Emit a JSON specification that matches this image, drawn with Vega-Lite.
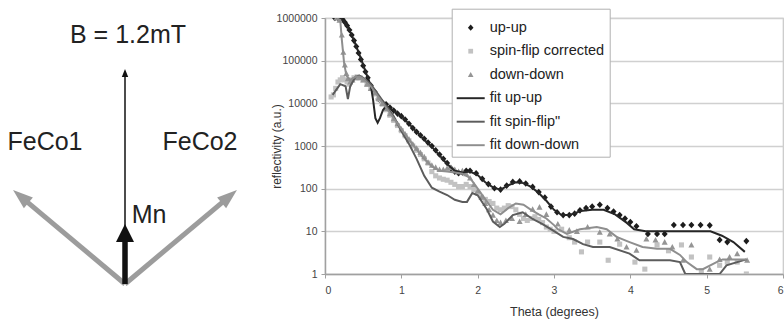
{
  "$schema": "https://vega.github.io/schema/vega-lite/v6.json",
  "background": "white",
  "padding": {"top": 7, "left": 0, "right": 0, "bottom": 0},
  "bounds": "flush",
  "spacing": 75,
  "config": {"font": "Liberation Sans"},
  "resolve": {"scale": {"color": "independent", "shape": "independent"}},
  "datasets": {
    "vec": [
      {"item": "FeCo1", "x0": 0, "y0": 0, "x1": -99.7, "y1": 83.7, "hx": -104.3, "hy": 87.6},
      {"item": "FeCo2", "x0": 0, "y0": 0, "x1": 99.7, "y1": 83.7, "hx": 104.3, "hy": 87.6},
      {"item": "B", "x0": 0, "y0": 0, "x1": 0, "y1": 210, "hx": 0, "hy": 211},
      {"item": "Mn", "x0": 0, "y0": 0, "x1": 0, "y1": 44, "hx": 0, "hy": 51}
    ],
    "lab": [
      {"text": "B = 1.2mT", "x": 3, "y": 249},
      {"text": "FeCo1", "x": -80, "y": 142},
      {"text": "FeCo2", "x": 75, "y": 142},
      {"text": "Mn", "x": 24, "y": 69}
    ],
    "pts": [
      {"s":"up-up","t":0.13,"r":1000000},{"s":"up-up","t":0.17,"r":1000000},{"s":"up-up","t":0.2,"r":1000000},{"s":"up-up","t":0.23,"r":933000},{"s":"up-up","t":0.26,"r":794000},{"s":"up-up","t":0.29,"r":661000},{"s":"up-up","t":0.32,"r":525000},{"s":"up-up","t":0.35,"r":398000},{"s":"up-up","t":0.38,"r":295000},{"s":"up-up","t":0.41,"r":214000},{"s":"up-up","t":0.44,"r":151000},{"s":"up-up","t":0.47,"r":107000},{"s":"up-up","t":0.5,"r":75900},{"s":"up-up","t":0.53,"r":55000},{"s":"up-up","t":0.56,"r":39800},{"s":"up-up","t":0.6,"r":26300},{"s":"up-up","t":0.65,"r":18600},{"s":"up-up","t":0.7,"r":12600},{"s":"up-up","t":0.75,"r":10500},{"s":"up-up","t":0.8,"r":9550},{"s":"up-up","t":0.85,"r":7940},{"s":"up-up","t":0.9,"r":6760},{"s":"up-up","t":0.95,"r":5750},{"s":"up-up","t":1.0,"r":5010},{"s":"up-up","t":1.05,"r":4170},{"s":"up-up","t":1.1,"r":3310},{"s":"up-up","t":1.15,"r":2630},{"s":"up-up","t":1.2,"r":2140},{"s":"up-up","t":1.25,"r":1780},{"s":"up-up","t":1.3,"r":1480},{"s":"up-up","t":1.35,"r":1200},{"s":"up-up","t":1.4,"r":1000},{"s":"up-up","t":1.45,"r":794},{"s":"up-up","t":1.5,"r":631},{"s":"up-up","t":1.55,"r":501},{"s":"up-up","t":1.6,"r":398},{"s":"up-up","t":1.65,"r":302},{"s":"up-up","t":1.7,"r":251},{"s":"up-up","t":1.75,"r":229},{"s":"up-up","t":1.8,"r":240},{"s":"up-up","t":1.85,"r":263},{"s":"up-up","t":1.9,"r":263},{"s":"up-up","t":1.98,"r":229},{"s":"up-up","t":2.06,"r":170},{"s":"up-up","t":2.14,"r":128},{"s":"up-up","t":2.22,"r":102},{"s":"up-up","t":2.3,"r":95},{"s":"up-up","t":2.38,"r":118},{"s":"up-up","t":2.46,"r":144},{"s":"up-up","t":2.55,"r":148},{"s":"up-up","t":2.63,"r":132},{"s":"up-up","t":2.72,"r":110},{"s":"up-up","t":2.8,"r":83},{"s":"up-up","t":2.88,"r":62},{"s":"up-up","t":2.96,"r":38},{"s":"up-up","t":3.04,"r":28},{"s":"up-up","t":3.12,"r":24},{"s":"up-up","t":3.2,"r":24},{"s":"up-up","t":3.27,"r":26},{"s":"up-up","t":3.34,"r":31},{"s":"up-up","t":3.42,"r":35},{"s":"up-up","t":3.5,"r":38},{"s":"up-up","t":3.6,"r":42},{"s":"up-up","t":3.7,"r":35},{"s":"up-up","t":3.78,"r":29},{"s":"up-up","t":3.86,"r":24},{"s":"up-up","t":3.93,"r":20},{"s":"up-up","t":4.0,"r":16.6},{"s":"up-up","t":4.08,"r":13.2},{"s":"up-up","t":4.23,"r":8.7},{"s":"up-up","t":4.35,"r":8.7},{"s":"up-up","t":4.45,"r":8.7},{"s":"up-up","t":4.57,"r":14.1},{"s":"up-up","t":4.69,"r":14.1},{"s":"up-up","t":4.8,"r":14.1},{"s":"up-up","t":4.92,"r":14.1},{"s":"up-up","t":5.04,"r":13.8},{"s":"up-up","t":5.17,"r":6.3},{"s":"up-up","t":5.27,"r":5.6},{"s":"up-up","t":5.52,"r":5.9},
      {"s":"spin-flip corrected","t":0.08,"r":14100},{"s":"spin-flip corrected","t":0.11,"r":15800},{"s":"spin-flip corrected","t":0.14,"r":22400},{"s":"spin-flip corrected","t":0.17,"r":31600},{"s":"spin-flip corrected","t":0.2,"r":35500},{"s":"spin-flip corrected","t":0.23,"r":39800},{"s":"spin-flip corrected","t":0.26,"r":35500},{"s":"spin-flip corrected","t":0.29,"r":31600},{"s":"spin-flip corrected","t":0.32,"r":28200},{"s":"spin-flip corrected","t":0.35,"r":35500},{"s":"spin-flip corrected","t":0.38,"r":39800},{"s":"spin-flip corrected","t":0.42,"r":41700},{"s":"spin-flip corrected","t":0.46,"r":39800},{"s":"spin-flip corrected","t":0.5,"r":35500},{"s":"spin-flip corrected","t":0.55,"r":28200},{"s":"spin-flip corrected","t":0.6,"r":22400},{"s":"spin-flip corrected","t":0.65,"r":16600},{"s":"spin-flip corrected","t":0.7,"r":12600},{"s":"spin-flip corrected","t":0.75,"r":9550},{"s":"spin-flip corrected","t":0.8,"r":7080},{"s":"spin-flip corrected","t":0.85,"r":5250},{"s":"spin-flip corrected","t":0.9,"r":3980},{"s":"spin-flip corrected","t":0.95,"r":3020},{"s":"spin-flip corrected","t":1.0,"r":2290},{"s":"spin-flip corrected","t":1.05,"r":1740},{"s":"spin-flip corrected","t":1.1,"r":1320},{"s":"spin-flip corrected","t":1.15,"r":1000},{"s":"spin-flip corrected","t":1.2,"r":794},{"s":"spin-flip corrected","t":1.25,"r":631},{"s":"spin-flip corrected","t":1.3,"r":501},{"s":"spin-flip corrected","t":1.35,"r":398},{"s":"spin-flip corrected","t":1.4,"r":251},{"s":"spin-flip corrected","t":1.45,"r":200},{"s":"spin-flip corrected","t":1.5,"r":178},{"s":"spin-flip corrected","t":1.55,"r":166},{"s":"spin-flip corrected","t":1.6,"r":158},{"s":"spin-flip corrected","t":1.65,"r":141},{"s":"spin-flip corrected","t":1.7,"r":126},{"s":"spin-flip corrected","t":1.75,"r":112},{"s":"spin-flip corrected","t":1.8,"r":112},{"s":"spin-flip corrected","t":1.85,"r":126},{"s":"spin-flip corrected","t":1.9,"r":112},{"s":"spin-flip corrected","t":1.95,"r":95},{"s":"spin-flip corrected","t":2.0,"r":79},{"s":"spin-flip corrected","t":2.05,"r":63},{"s":"spin-flip corrected","t":2.1,"r":56},{"s":"spin-flip corrected","t":2.15,"r":50},{"s":"spin-flip corrected","t":2.2,"r":45},{"s":"spin-flip corrected","t":2.25,"r":35},{"s":"spin-flip corrected","t":2.3,"r":32},{"s":"spin-flip corrected","t":2.35,"r":35},{"s":"spin-flip corrected","t":2.4,"r":40},{"s":"spin-flip corrected","t":2.45,"r":38},{"s":"spin-flip corrected","t":2.5,"r":32},{"s":"spin-flip corrected","t":2.55,"r":25},{"s":"spin-flip corrected","t":2.6,"r":20},{"s":"spin-flip corrected","t":2.65,"r":18},{"s":"spin-flip corrected","t":2.7,"r":20},{"s":"spin-flip corrected","t":2.75,"r":22},{"s":"spin-flip corrected","t":2.8,"r":19},{"s":"spin-flip corrected","t":2.85,"r":16},{"s":"spin-flip corrected","t":2.9,"r":12.6},{"s":"spin-flip corrected","t":2.95,"r":11.2},{"s":"spin-flip corrected","t":3.0,"r":10},{"s":"spin-flip corrected","t":3.1,"r":11.2},{"s":"spin-flip corrected","t":3.2,"r":7.1},{"s":"spin-flip corrected","t":3.27,"r":5.6},{"s":"spin-flip corrected","t":3.36,"r":3.3},{"s":"spin-flip corrected","t":3.44,"r":5.6},{"s":"spin-flip corrected","t":3.6,"r":5.6},{"s":"spin-flip corrected","t":3.71,"r":2.1},{"s":"spin-flip corrected","t":3.86,"r":5.0},{"s":"spin-flip corrected","t":4.06,"r":1.9},{"s":"spin-flip corrected","t":4.19,"r":1.3},{"s":"spin-flip corrected","t":4.35,"r":4.8},{"s":"spin-flip corrected","t":4.5,"r":3.5},{"s":"spin-flip corrected","t":4.67,"r":4.8},{"s":"spin-flip corrected","t":4.8,"r":2.5},{"s":"spin-flip corrected","t":4.93,"r":1.2},{"s":"spin-flip corrected","t":5.04,"r":2.5},{"s":"spin-flip corrected","t":5.17,"r":1.6},{"s":"spin-flip corrected","t":5.27,"r":1.9},{"s":"spin-flip corrected","t":5.4,"r":1.9},{"s":"spin-flip corrected","t":5.52,"r":1.0},
      {"s":"down-down","t":0.15,"r":1000000},{"s":"down-down","t":0.19,"r":891000},{"s":"down-down","t":0.22,"r":398000},{"s":"down-down","t":0.24,"r":158000},{"s":"down-down","t":0.26,"r":79400},{"s":"down-down","t":0.28,"r":50100},{"s":"down-down","t":0.3,"r":38000},{"s":"down-down","t":0.33,"r":31600},{"s":"down-down","t":0.36,"r":35500},{"s":"down-down","t":0.4,"r":39800},{"s":"down-down","t":0.45,"r":39800},{"s":"down-down","t":0.5,"r":35500},{"s":"down-down","t":0.55,"r":28200},{"s":"down-down","t":0.6,"r":22400},{"s":"down-down","t":0.65,"r":17800},{"s":"down-down","t":0.7,"r":13200},{"s":"down-down","t":0.75,"r":10000},{"s":"down-down","t":0.8,"r":7590},{"s":"down-down","t":0.85,"r":5750},{"s":"down-down","t":0.9,"r":4370},{"s":"down-down","t":0.95,"r":3310},{"s":"down-down","t":1.0,"r":2510},{"s":"down-down","t":1.05,"r":1910},{"s":"down-down","t":1.1,"r":1450},{"s":"down-down","t":1.15,"r":1120},{"s":"down-down","t":1.2,"r":891},{"s":"down-down","t":1.25,"r":708},{"s":"down-down","t":1.3,"r":562},{"s":"down-down","t":1.35,"r":417},{"s":"down-down","t":1.4,"r":355},{"s":"down-down","t":1.45,"r":316},{"s":"down-down","t":1.5,"r":282},{"s":"down-down","t":1.55,"r":282},{"s":"down-down","t":1.6,"r":302},{"s":"down-down","t":1.65,"r":316},{"s":"down-down","t":1.7,"r":282},{"s":"down-down","t":1.75,"r":251},{"s":"down-down","t":1.8,"r":263},{"s":"down-down","t":1.85,"r":224},{"s":"down-down","t":1.9,"r":178},{"s":"down-down","t":1.95,"r":126},{"s":"down-down","t":2.0,"r":89},{"s":"down-down","t":2.05,"r":63},{"s":"down-down","t":2.1,"r":45},{"s":"down-down","t":2.15,"r":32},{"s":"down-down","t":2.2,"r":24},{"s":"down-down","t":2.25,"r":18},{"s":"down-down","t":2.3,"r":16},{"s":"down-down","t":2.37,"r":18},{"s":"down-down","t":2.45,"r":20},{"s":"down-down","t":2.55,"r":17},{"s":"down-down","t":2.63,"r":25},{"s":"down-down","t":2.72,"r":33},{"s":"down-down","t":2.81,"r":37},{"s":"down-down","t":2.9,"r":25},{"s":"down-down","t":3.05,"r":14.8},{"s":"down-down","t":3.2,"r":10.7},{"s":"down-down","t":3.3,"r":10},{"s":"down-down","t":3.44,"r":12.6},{"s":"down-down","t":3.6,"r":9.5},{"s":"down-down","t":3.73,"r":8.7},{"s":"down-down","t":3.83,"r":6.6},{"s":"down-down","t":3.95,"r":4.3},{"s":"down-down","t":4.08,"r":3.6},{"s":"down-down","t":4.21,"r":6.6},{"s":"down-down","t":4.33,"r":6.3},{"s":"down-down","t":4.45,"r":5.6},{"s":"down-down","t":4.55,"r":4.3},{"s":"down-down","t":4.69,"r":2.1},{"s":"down-down","t":4.8,"r":4.8},{"s":"down-down","t":5.04,"r":1.3},{"s":"down-down","t":5.17,"r":2.2},{"s":"down-down","t":5.3,"r":2.5},{"s":"down-down","t":5.4,"r":3.0},{"s":"down-down","t":5.53,"r":2.1}
    ],
    "fits": [
      {"s":"fit up-up","t":0.15,"r":1000000},{"s":"fit up-up","t":0.2,"r":1000000},{"s":"fit up-up","t":0.25,"r":832000},{"s":"fit up-up","t":0.3,"r":603000},{"s":"fit up-up","t":0.35,"r":398000},{"s":"fit up-up","t":0.4,"r":240000},{"s":"fit up-up","t":0.45,"r":141000},{"s":"fit up-up","t":0.5,"r":79400},{"s":"fit up-up","t":0.55,"r":44700},{"s":"fit up-up","t":0.6,"r":26300},{"s":"fit up-up","t":0.63,"r":12000},{"s":"fit up-up","t":0.66,"r":4500},{"s":"fit up-up","t":0.69,"r":3500},{"s":"fit up-up","t":0.72,"r":4500},{"s":"fit up-up","t":0.76,"r":7000},{"s":"fit up-up","t":0.8,"r":8500},{"s":"fit up-up","t":0.85,"r":7600},{"s":"fit up-up","t":0.9,"r":6800},{"s":"fit up-up","t":1.0,"r":5000},{"s":"fit up-up","t":1.1,"r":3300},{"s":"fit up-up","t":1.2,"r":2140},{"s":"fit up-up","t":1.3,"r":1410},{"s":"fit up-up","t":1.4,"r":955},{"s":"fit up-up","t":1.5,"r":603},{"s":"fit up-up","t":1.6,"r":380},{"s":"fit up-up","t":1.7,"r":263},{"s":"fit up-up","t":1.8,"r":240},{"s":"fit up-up","t":1.9,"r":251},{"s":"fit up-up","t":2.0,"r":209},{"s":"fit up-up","t":2.1,"r":141},{"s":"fit up-up","t":2.2,"r":107},{"s":"fit up-up","t":2.3,"r":95},{"s":"fit up-up","t":2.4,"r":120},{"s":"fit up-up","t":2.5,"r":141},{"s":"fit up-up","t":2.6,"r":135},{"s":"fit up-up","t":2.7,"r":110},{"s":"fit up-up","t":2.8,"r":79},{"s":"fit up-up","t":2.9,"r":52},{"s":"fit up-up","t":3.0,"r":32},{"s":"fit up-up","t":3.1,"r":24},{"s":"fit up-up","t":3.2,"r":24},{"s":"fit up-up","t":3.35,"r":30},{"s":"fit up-up","t":3.5,"r":32},{"s":"fit up-up","t":3.65,"r":32},{"s":"fit up-up","t":3.8,"r":25},{"s":"fit up-up","t":3.95,"r":16},{"s":"fit up-up","t":4.05,"r":11.2},{"s":"fit up-up","t":4.2,"r":10},{"s":"fit up-up","t":4.5,"r":10},{"s":"fit up-up","t":4.8,"r":10},{"s":"fit up-up","t":5.05,"r":10},{"s":"fit up-up","t":5.2,"r":7.9},{"s":"fit up-up","t":5.35,"r":5.6},{"s":"fit up-up","t":5.5,"r":3.3},
      {"s":"fit spin-flip\"","t":0.1,"r":15800},{"s":"fit spin-flip\"","t":0.2,"r":28200},{"s":"fit spin-flip\"","t":0.27,"r":25100},{"s":"fit spin-flip\"","t":0.3,"r":12600},{"s":"fit spin-flip\"","t":0.33,"r":25100},{"s":"fit spin-flip\"","t":0.4,"r":41700},{"s":"fit spin-flip\"","t":0.45,"r":44700},{"s":"fit spin-flip\"","t":0.5,"r":39800},{"s":"fit spin-flip\"","t":0.6,"r":28200},{"s":"fit spin-flip\"","t":0.7,"r":15800},{"s":"fit spin-flip\"","t":0.8,"r":8900},{"s":"fit spin-flip\"","t":0.9,"r":5000},{"s":"fit spin-flip\"","t":1.0,"r":2240},{"s":"fit spin-flip\"","t":1.1,"r":1120},{"s":"fit spin-flip\"","t":1.2,"r":500},{"s":"fit spin-flip\"","t":1.3,"r":200},{"s":"fit spin-flip\"","t":1.4,"r":105},{"s":"fit spin-flip\"","t":1.5,"r":85},{"s":"fit spin-flip\"","t":1.6,"r":71},{"s":"fit spin-flip\"","t":1.7,"r":55},{"s":"fit spin-flip\"","t":1.8,"r":49},{"s":"fit spin-flip\"","t":1.86,"r":49},{"s":"fit spin-flip\"","t":1.93,"r":79},{"s":"fit spin-flip\"","t":2.0,"r":70},{"s":"fit spin-flip\"","t":2.12,"r":33},{"s":"fit spin-flip\"","t":2.2,"r":17},{"s":"fit spin-flip\"","t":2.29,"r":12.6},{"s":"fit spin-flip\"","t":2.35,"r":15},{"s":"fit spin-flip\"","t":2.46,"r":24},{"s":"fit spin-flip\"","t":2.59,"r":28},{"s":"fit spin-flip\"","t":2.72,"r":19.5},{"s":"fit spin-flip\"","t":2.85,"r":14.8},{"s":"fit spin-flip\"","t":2.98,"r":10.7},{"s":"fit spin-flip\"","t":3.12,"r":7.4},{"s":"fit spin-flip\"","t":3.25,"r":6.6},{"s":"fit spin-flip\"","t":3.38,"r":5.0},{"s":"fit spin-flip\"","t":3.51,"r":4.3},{"s":"fit spin-flip\"","t":3.73,"r":4.3},{"s":"fit spin-flip\"","t":3.99,"r":3.0},{"s":"fit spin-flip\"","t":4.12,"r":2.1},{"s":"fit spin-flip\"","t":4.52,"r":2.1},{"s":"fit spin-flip\"","t":4.65,"r":1.9},{"s":"fit spin-flip\"","t":4.72,"r":1.0},{"s":"fit spin-flip\"","t":5.17,"r":1.0},{"s":"fit spin-flip\"","t":5.26,"r":1.6},{"s":"fit spin-flip\"","t":5.52,"r":2.2},
      {"s":"fit down-down","t":0.15,"r":1000000},{"s":"fit down-down","t":0.2,"r":891000},{"s":"fit down-down","t":0.22,"r":316000},{"s":"fit down-down","t":0.25,"r":89100},{"s":"fit down-down","t":0.28,"r":44700},{"s":"fit down-down","t":0.33,"r":35500},{"s":"fit down-down","t":0.4,"r":41700},{"s":"fit down-down","t":0.45,"r":42700},{"s":"fit down-down","t":0.5,"r":38000},{"s":"fit down-down","t":0.6,"r":25100},{"s":"fit down-down","t":0.7,"r":14100},{"s":"fit down-down","t":0.8,"r":7940},{"s":"fit down-down","t":0.9,"r":4470},{"s":"fit down-down","t":1.0,"r":2510},{"s":"fit down-down","t":1.1,"r":1410},{"s":"fit down-down","t":1.2,"r":832},{"s":"fit down-down","t":1.3,"r":501},{"s":"fit down-down","t":1.4,"r":331},{"s":"fit down-down","t":1.5,"r":263},{"s":"fit down-down","t":1.6,"r":251},{"s":"fit down-down","t":1.7,"r":240},{"s":"fit down-down","t":1.8,"r":224},{"s":"fit down-down","t":1.9,"r":178},{"s":"fit down-down","t":2.0,"r":100},{"s":"fit down-down","t":2.1,"r":56},{"s":"fit down-down","t":2.2,"r":32},{"s":"fit down-down","t":2.3,"r":25},{"s":"fit down-down","t":2.4,"r":35},{"s":"fit down-down","t":2.5,"r":45},{"s":"fit down-down","t":2.6,"r":42},{"s":"fit down-down","t":2.7,"r":32},{"s":"fit down-down","t":2.8,"r":25},{"s":"fit down-down","t":2.9,"r":20},{"s":"fit down-down","t":3.0,"r":14},{"s":"fit down-down","t":3.05,"r":11.2},{"s":"fit down-down","t":3.17,"r":8.7},{"s":"fit down-down","t":3.34,"r":11.2},{"s":"fit down-down","t":3.56,"r":12.6},{"s":"fit down-down","t":3.69,"r":11.2},{"s":"fit down-down","t":3.82,"r":7.4},{"s":"fit down-down","t":3.99,"r":5.6},{"s":"fit down-down","t":4.16,"r":4.3},{"s":"fit down-down","t":4.35,"r":3.9},{"s":"fit down-down","t":4.52,"r":3.9},{"s":"fit down-down","t":4.65,"r":2.8},{"s":"fit down-down","t":4.74,"r":1.9},{"s":"fit down-down","t":4.87,"r":1.3},{"s":"fit down-down","t":4.95,"r":1.3},{"s":"fit down-down","t":5.13,"r":1.9},{"s":"fit down-down","t":5.21,"r":2.2},{"s":"fit down-down","t":5.52,"r":2.2}
    ]
  },
  "hconcat": [
    {
      "width": 250,
      "height": 274,
      "view": {"stroke": null},
      "layer": [
        {
          "data": {"name": "vec"},
          "transform": [{"filter": "datum.item === 'FeCo1' || datum.item === 'FeCo2'"}],
          "mark": {"type": "rule", "stroke": "#9c9c9c", "strokeWidth": 5, "strokeCap": "butt"},
          "encoding": {
            "x": {"field": "x0", "type": "quantitative", "scale": {"domain": [-125, 125], "nice": false, "zero": false}, "axis": null},
            "y": {"field": "y0", "type": "quantitative", "scale": {"domain": [-8, 266], "nice": false, "zero": false}, "axis": null},
            "x2": {"field": "x1"},
            "y2": {"field": "y1"}
          }
        },
        {
          "data": {"name": "vec"},
          "transform": [{"filter": "datum.item === 'FeCo1'"}],
          "mark": {"type": "point", "shape": "M0,-1L-0.7,1L0.7,1Z", "filled": true, "fill": "#9c9c9c", "opacity": 1, "size": 400, "angle": -50},
          "encoding": {
            "x": {"field": "hx", "type": "quantitative", "scale": {"domain": [-125, 125], "nice": false, "zero": false}, "axis": null},
            "y": {"field": "hy", "type": "quantitative", "scale": {"domain": [-8, 266], "nice": false, "zero": false}, "axis": null}
          }
        },
        {
          "data": {"name": "vec"},
          "transform": [{"filter": "datum.item === 'FeCo2'"}],
          "mark": {"type": "point", "shape": "M0,-1L-0.7,1L0.7,1Z", "filled": true, "fill": "#9c9c9c", "opacity": 1, "size": 400, "angle": 50},
          "encoding": {
            "x": {"field": "hx", "type": "quantitative", "scale": {"domain": [-125, 125], "nice": false, "zero": false}, "axis": null},
            "y": {"field": "hy", "type": "quantitative", "scale": {"domain": [-8, 266], "nice": false, "zero": false}, "axis": null}
          }
        },
        {
          "data": {"name": "vec"},
          "transform": [{"filter": "datum.item === 'B'"}],
          "mark": {"type": "rule", "stroke": "#111111", "strokeWidth": 1.5, "strokeCap": "butt"},
          "encoding": {
            "x": {"field": "x0", "type": "quantitative", "scale": {"domain": [-125, 125], "nice": false, "zero": false}, "axis": null},
            "y": {"field": "y0", "type": "quantitative", "scale": {"domain": [-8, 266], "nice": false, "zero": false}, "axis": null},
            "x2": {"field": "x1"},
            "y2": {"field": "y1"}
          }
        },
        {
          "data": {"name": "vec"},
          "transform": [{"filter": "datum.item === 'B'"}],
          "mark": {"type": "point", "shape": "M0,-1L-0.8,1L0.8,1Z", "filled": true, "fill": "#111111", "opacity": 1, "size": 64},
          "encoding": {
            "x": {"field": "hx", "type": "quantitative", "scale": {"domain": [-125, 125], "nice": false, "zero": false}, "axis": null},
            "y": {"field": "hy", "type": "quantitative", "scale": {"domain": [-8, 266], "nice": false, "zero": false}, "axis": null}
          }
        },
        {
          "data": {"name": "vec"},
          "transform": [{"filter": "datum.item === 'Mn'"}],
          "mark": {"type": "rule", "stroke": "#111111", "strokeWidth": 5.5, "strokeCap": "butt"},
          "encoding": {
            "x": {"field": "x0", "type": "quantitative", "scale": {"domain": [-125, 125], "nice": false, "zero": false}, "axis": null},
            "y": {"field": "y0", "type": "quantitative", "scale": {"domain": [-8, 266], "nice": false, "zero": false}, "axis": null},
            "x2": {"field": "x1"},
            "y2": {"field": "y1"}
          }
        },
        {
          "data": {"name": "vec"},
          "transform": [{"filter": "datum.item === 'Mn'"}],
          "mark": {"type": "point", "shape": "M0,-1L-1,1L1,1Z", "filled": true, "fill": "#111111", "opacity": 1, "size": 324},
          "encoding": {
            "x": {"field": "hx", "type": "quantitative", "scale": {"domain": [-125, 125], "nice": false, "zero": false}, "axis": null},
            "y": {"field": "hy", "type": "quantitative", "scale": {"domain": [-8, 266], "nice": false, "zero": false}, "axis": null}
          }
        },
        {
          "data": {"name": "lab"},
          "mark": {"type": "text", "fontSize": 25, "font": "Liberation Sans", "color": "#222222", "align": "center", "baseline": "middle"},
          "encoding": {
            "x": {"field": "x", "type": "quantitative", "scale": {"domain": [-125, 125], "nice": false, "zero": false}, "axis": null},
            "y": {"field": "y", "type": "quantitative", "scale": {"domain": [-8, 266], "nice": false, "zero": false}, "axis": null},
            "text": {"field": "text", "type": "nominal"}
          }
        }
      ]
    },
    {
      "width": 458,
      "height": 256,
      "view": {"stroke": "#c8c8c8", "strokeWidth": 1.2},
      "layer": [
        {
          "data": {"name": "pts"},
          "mark": {"type": "point", "filled": true, "opacity": 1, "size": 900, "clip": true},
          "encoding": {
            "x": {
              "field": "t", "type": "quantitative", "title": "Theta (degrees)",
              "scale": {"domain": [0, 6], "nice": false, "zero": false},
              "axis": {"values": [0, 1, 2, 3, 4, 5, 6], "format": "d", "grid": false, "domainColor": "#a0a0a0", "domainWidth": 1.5, "tickColor": "#a0a0a0", "tickSize": 4, "labelPadding": 7, "labelFontSize": 10.5, "labelColor": "#444444", "labelFont": "Liberation Sans", "titleFont": "Liberation Sans", "titleFontSize": 12.5, "titleFontWeight": "normal", "titleColor": "#333333", "titlePadding": 10}
            },
            "y": {
              "field": "r", "type": "quantitative", "title": "reflectivity (a.u.)",
              "scale": {"type": "log", "domain": [1, 1000000], "nice": false},
              "axis": {"values": [1, 10, 100, 1000, 10000, 100000, 1000000], "format": "d", "grid": true, "gridColor": "#d0d0d0", "gridWidth": 1.5, "domainColor": "#a0a0a0", "domainWidth": 1.5, "tickColor": "#a0a0a0", "tickSize": 4, "labelPadding": 4, "labelFontSize": 10.5, "labelColor": "#444444", "labelFont": "Liberation Sans", "titleFont": "Liberation Sans", "titleFontSize": 12, "titleFontWeight": "normal", "titleColor": "#333333", "titlePadding": -7}
            },
            "color": {
              "field": "s", "type": "nominal",
              "scale": {
                "domain": ["up-up", "spin-flip corrected", "down-down", "fit up-up", "fit spin-flip\"", "fit down-down"],
                "range": ["#1c1c1c", "#c2c2c2", "#959595", "#262626", "#5c5c5c", "#8e8e8e"]
              },
              "legend": {
                "title": null, "orient": "none", "legendX": 126.7, "legendY": -9.3, "direction": "vertical",
                "fillColor": "white", "strokeColor": "#b0b0b0", "padding": 5,
                "labelFontSize": 14.5, "labelFont": "Liberation Sans", "labelColor": "#222222", "labelLimit": 300,
                "symbolSize": 784, "symbolStrokeWidth": 0, "rowPadding": 2.5, "labelOffset": 5, "symbolOpacity": 1
              }
            },
            "shape": {
              "field": "s", "type": "nominal",
              "scale": {
                "domain": ["up-up", "spin-flip corrected", "down-down", "fit up-up", "fit spin-flip\"", "fit down-down"],
                "range": ["M0,-0.22L0.2,0L0,0.22L-0.2,0Z", "M-0.17,-0.17H0.17V0.17H-0.17Z", "M0,-0.2L0.2,0.17H-0.2Z", "M-1,-0.07H1V0.07H-1Z", "M-1,-0.07H1V0.07H-1Z", "M-1,-0.07H1V0.07H-1Z"]
              },
              "legend": {
                "title": null, "orient": "none", "legendX": 126.7, "legendY": -9.3, "direction": "vertical",
                "fillColor": "white", "strokeColor": "#b0b0b0", "padding": 5,
                "labelFontSize": 14.5, "labelFont": "Liberation Sans", "labelColor": "#222222", "labelLimit": 300,
                "symbolSize": 784, "symbolStrokeWidth": 0, "rowPadding": 2.5, "labelOffset": 5, "symbolOpacity": 1
              }
            }
          }
        },
        {
          "data": {"name": "fits"},
          "mark": {"type": "line", "strokeWidth": 2, "clip": true},
          "encoding": {
            "x": {"field": "t", "type": "quantitative"},
            "y": {"field": "r", "type": "quantitative"},
            "color": {
              "field": "s", "type": "nominal",
              "scale": {
                "domain": ["up-up", "spin-flip corrected", "down-down", "fit up-up", "fit spin-flip\"", "fit down-down"],
                "range": ["#1c1c1c", "#c2c2c2", "#959595", "#262626", "#5c5c5c", "#8e8e8e"]
              }
            }
          }
        }
      ]
    }
  ]
}
